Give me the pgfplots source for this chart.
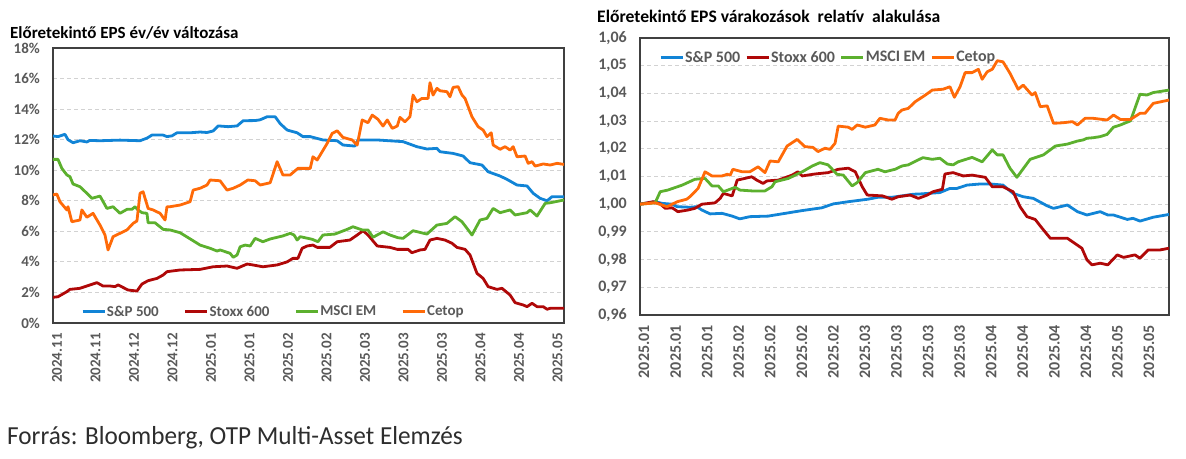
\documentclass[border=0pt]{standalone}
\usepackage{fontspec}
\setmainfont{Carlito}
\usepackage{graphicx}
\usepackage{pgfplots}
\pgfplotsset{compat=1.18}

\definecolor{spblue}{RGB}{17,132,214}
\definecolor{stoxxred}{RGB}{175,8,8}
\definecolor{emgreen}{RGB}{92,176,46}
\definecolor{cetoporange}{RGB}{255,106,8}
\definecolor{labelgray}{RGB}{89,89,89}
\definecolor{gridgray}{RGB}{210,210,210}
\definecolor{framegray}{RGB}{64,64,64}
\definecolor{srcgray}{RGB}{45,45,45}

\pgfplotsset{
  epsaxis/.style={
    scale only axis, anchor=south west,
    axis line style={draw=framegray, line width=1.3pt},
    major tick length=0pt,
    ymajorgrids,
    major grid style={draw=gridgray, line width=1pt, dash pattern=on 4pt off 3pt},
    tick label style={text=labelgray, inner sep=0pt},
    yticklabel style={xshift=-13pt, anchor=east},
    xticklabel style={xshift=4pt, yshift=-10pt, rotate=90, anchor=east},
    legend style={draw=none, fill=none, inner sep=0pt, legend columns=4,
      text=labelgray, nodes={inner xsep=1pt, inner ysep=0pt}},
    legend image code/.code={\draw[#1] (0pt,0pt) -- (22pt,0pt);},
    every axis plot/.append style={line width=2.8pt, line join=round, mark=none},
  }
}

\begin{document}
\begin{tikzpicture}
\path[use as bounding box] (0pt,0pt) rectangle (1186pt,458pt);

% ---------- left panel: year-on-year change of forward EPS ----------
\node[anchor=base west, inner sep=0pt, font=\bfseries\fontsize{17}{20}\selectfont]
  at (10pt,419pt) {Előretekintő EPS év/év változása};

\begin{axis}[epsaxis,
  at={(53pt,135pt)}, width=511pt, height=275pt,
  xmin=0, xmax=132.7, ymin=0, ymax=18,
  xtick={0,10,...,130},
  xticklabels={2024.11,2024.11,2024.12,2024.12,2025.01,2025.01,2025.02,2025.02,2025.03,2025.03,2025.03,2025.04,2025.04,2025.05},
  ytick={0,2,...,18},
  yticklabels={0\%,2\%,4\%,6\%,8\%,10\%,12\%,14\%,16\%,18\%},
  tick label style={font=\bfseries\fontsize{15}{18}\selectfont},
  legend style={at={(0.0548,0.041)}, anchor=west,
    font=\bfseries\fontsize{15}{18}\selectfont,
    /tikz/every even column/.append style={column sep=24pt}},
]
\addplot[spblue] coordinates {(0,12.24) (1.3,12.20) (3.1,12.35) (3.9,12.00) (5.2,11.80) (7.0,11.93) (8.8,11.85) (9.6,11.95) (12.2,11.93) (14.8,11.95) (17.4,11.97) (20.0,11.95) (22.6,11.93) (24.4,12.10) (25.7,12.30) (28.6,12.30) (29.6,12.20) (30.9,12.25) (32.2,12.45) (35.6,12.45) (38.2,12.50) (40.0,12.47) (41.6,12.57) (42.9,12.90) (45.5,12.85) (47.8,12.90) (49.4,13.24) (52.5,13.25) (53.8,13.30) (55.6,13.50) (57.7,13.50) (59.0,13.05) (60.8,12.63) (63.4,12.45) (64.9,12.20) (66.8,12.20) (70.1,11.98) (73.8,11.93) (75.3,11.65) (78.4,11.58) (79.2,11.98) (84.2,11.98) (90.9,11.87) (94.5,11.54) (97.1,11.39) (99.7,11.43) (100.5,11.21) (103.9,11.10) (106.5,10.93) (108.3,10.49) (111.4,10.34) (113.0,9.90) (116.1,9.62) (117.9,9.40) (120.5,9.03) (123.1,8.97) (124.7,8.49) (126.5,8.16) (128.3,8.00) (129.6,8.27) (132.7,8.27)};
\addlegendentry{S\&P 500}
\addplot[stoxxred] coordinates {(0,1.68) (1.3,1.72) (3.6,2.05) (4.4,2.20) (7.0,2.27) (9.6,2.49) (11.4,2.64) (13.0,2.42) (14.8,2.42) (16.1,2.38) (16.9,2.49) (19.5,2.16) (21.8,2.09) (23.1,2.55) (24.7,2.77) (27.0,2.92) (28.6,3.14) (29.6,3.36) (33.0,3.47) (38.2,3.51) (41.6,3.68) (45.2,3.73) (47.8,3.58) (50.4,3.86) (51.9,3.80) (54.5,3.68) (58.2,3.80) (60.8,4.00) (62.3,4.23) (63.6,4.23) (64.7,4.89) (66.0,5.04) (67.5,5.10) (68.6,4.95) (71.9,4.95) (73.8,5.32) (77.1,5.43) (79.0,5.76) (80.5,6.04) (81.8,5.76) (84.2,5.04) (87.5,4.95) (89.4,4.82) (92.2,4.82) (93.2,4.60) (95.3,4.78) (96.6,4.82) (97.9,5.43) (99.7,5.54) (101.8,5.43) (103.6,5.22) (104.9,4.95) (107.0,4.82) (108.3,4.45) (110.1,3.25) (111.7,2.92) (113.0,2.38) (115.3,2.20) (116.6,2.27) (118.7,1.83) (120.0,1.33) (122.1,1.18) (123.1,1.07) (124.4,1.29) (125.7,1.07) (127.3,1.07) (128.3,0.90) (129.1,0.96) (132.7,0.96)};
\addlegendentry{Stoxx 600}
\addplot[emgreen] coordinates {(0,10.71) (1.3,10.71) (2.3,10.12) (3.6,9.69) (4.4,9.58) (5.2,9.10) (7.0,8.92) (8.8,8.49) (10.1,8.16) (12.2,8.31) (14.0,7.50) (15.6,7.61) (17.4,7.18) (19.2,7.44) (20.5,7.44) (21.3,7.61) (22.1,7.40) (23.1,7.22) (24.4,7.18) (24.7,6.56) (26.5,6.56) (28.6,6.13) (30.4,6.09) (33.0,5.91) (36.1,5.43) (38.2,5.10) (40.8,4.89) (42.6,4.71) (43.4,4.78) (46.0,4.56) (46.8,4.30) (47.8,4.45) (48.6,4.99) (49.9,5.10) (51.2,5.04) (52.5,5.54) (54.5,5.32) (56.4,5.50) (59.7,5.70) (61.6,5.87) (62.6,5.76) (63.4,5.43) (64.2,5.65) (67.3,5.48) (68.8,5.32) (70.1,5.76) (73.2,5.82) (76.4,6.13) (77.9,6.30) (80.3,6.09) (81.8,6.09) (83.1,5.61) (85.7,5.97) (87.5,5.76) (89.6,5.58) (90.9,5.54) (93.5,6.04) (97.1,5.82) (99.7,6.41) (102.3,6.52) (104.4,6.96) (106.2,6.63) (108.8,5.76) (110.9,6.74) (112.7,6.85) (114.3,7.50) (116.1,7.22) (118.7,7.40) (120.0,7.07) (123.1,7.22) (123.9,7.40) (125.7,7.00) (127.8,7.83) (129.1,7.87) (132.7,8.05)};
\addlegendentry{MSCI EM}
\addplot[cetoporange] coordinates {(0,8.38) (1.0,8.44) (1.8,7.94) (3.6,7.40) (3.9,7.61) (4.9,6.63) (7.0,6.74) (7.5,7.40) (8.8,6.92) (10.4,7.18) (12.2,6.41) (13.5,5.76) (14.3,4.78) (15.6,5.65) (17.4,5.87) (19.2,6.09) (20.8,6.52) (21.8,6.68) (22.6,8.49) (23.4,8.59) (24.7,7.50) (26.0,7.40) (27.8,7.18) (29.1,6.74) (29.6,7.61) (30.4,7.61) (33.0,7.72) (35.6,7.94) (36.4,8.70) (38.2,8.82) (40.0,9.03) (40.8,9.36) (43.4,9.31) (44.2,9.03) (45.2,8.70) (46.8,8.82) (48.6,9.03) (50.6,9.36) (52.5,9.31) (53.8,9.03) (56.4,9.18) (58.2,10.56) (59.7,9.69) (61.6,9.69) (63.6,10.12) (66.8,10.12) (67.5,10.88) (68.6,10.67) (69.9,11.21) (71.2,11.76) (72.5,12.41) (73.8,12.58) (75.3,12.15) (77.7,11.98) (79.0,11.65) (80.3,13.29) (81.8,13.11) (82.9,13.61) (84.4,13.33) (85.7,12.89) (86.8,13.29) (88.1,12.74) (89.4,12.89) (90.1,13.46) (91.4,13.17) (92.7,13.50) (93.5,14.92) (94.5,14.48) (95.8,14.70) (97.4,14.70) (97.9,15.73) (98.7,14.92) (99.7,15.36) (100.5,15.20) (102.3,15.14) (103.1,14.81) (103.9,15.42) (105.2,15.47) (106.2,14.92) (107.0,14.70) (108.8,13.50) (110.4,12.85) (111.7,12.63) (112.7,12.20) (113.8,12.45) (114.3,11.65) (116.1,11.37) (117.4,11.54) (118.7,11.32) (119.5,11.54) (120.5,10.88) (122.6,10.93) (123.4,10.45) (124.4,10.56) (125.2,10.27) (127.3,10.41) (129.1,10.34) (130.9,10.45) (132.7,10.38)};
\addlegendentry{Cetop}
\end{axis}

% ---------- right panel: relative path of forward EPS expectations ----------
\node[anchor=base west, inner sep=0pt, font=\bfseries\fontsize{17.6}{20}\selectfont]
  at (597pt,435.3pt) {Előretekintő EPS várakozások \ relatív \ alakulása};

\begin{axis}[epsaxis,
  at={(640pt,143pt)}, width=529pt, height=277pt,
  xmin=0, xmax=83.8, ymin=0.96, ymax=1.06,
  xtick={0,5,...,80},
  xticklabels={2025.01,2025.01,2025.01,2025.02,2025.02,2025.02,2025.02,2025.03,2025.03,2025.03,2025.03,2025.04,2025.04,2025.04,2025.04,2025.05,2025.05},
  ytick={0.96,0.97,0.98,0.99,1.00,1.01,1.02,1.03,1.04,1.05,1.06},
  yticklabels={{0,96},{0,97},{0,98},{0,99},{1,00},{1,01},{1,02},{1,03},{1,04},{1,05},{1,06}},
  tick label style={font=\bfseries\fontsize{16}{19}\selectfont},
  legend style={at={(0.0359,0.9296)}, anchor=west,
    font=\bfseries\fontsize{16}{19}\selectfont,
    /tikz/every even column/.append style={column sep=4pt}},
]
\addplot[spblue] coordinates {(0,1.0000) (2.4,1.0009) (3.5,1.0003) (5.1,1.0000) (5.9,0.9991) (7.9,0.9989) (9.0,0.9991) (9.8,0.9979) (11.1,0.9965) (13.0,0.9967) (14.6,0.9957) (15.8,0.9947) (17.4,0.9955) (20.3,0.9957) (23.0,0.9967) (25.7,0.9977) (28.8,0.9987) (30.6,1.0001) (33.0,1.0009) (36.1,1.0018) (37.7,1.0025) (39.9,1.0025) (41.5,1.0030) (43.3,1.0036) (44.4,1.0037) (47.5,1.0042) (49.1,1.0057) (50.2,1.0057) (51.8,1.0069) (53.9,1.0073) (55.5,1.0073) (57.5,1.0069) (59.1,1.0039) (60.7,1.0027) (62.3,1.0021) (64.5,0.9994) (65.5,0.9985) (67.7,0.9997) (69.3,0.9973) (70.8,0.9961) (72.9,0.9973) (74.1,0.9961) (75.0,0.9961) (77.2,0.9945) (78.1,0.9949) (79.2,0.9939) (81.3,0.9953) (83.8,0.9963)};
\addlegendentry{S\&P 500}
\addplot[stoxxred] coordinates {(0,1.0000) (2.1,1.0009) (3.2,1.0001) (4.0,0.9985) (5.1,0.9987) (6.0,0.9973) (7.6,0.9979) (8.7,0.9985) (9.8,1.0000) (11.9,1.0005) (12.7,1.0021) (13.2,1.0039) (14.6,1.0030) (15.4,1.0087) (16.6,1.0093) (17.7,1.0099) (18.5,1.0087) (19.5,1.0075) (20.1,1.0084) (21.9,1.0087) (24.1,1.0105) (25.0,1.0117) (25.7,1.0102) (27.7,1.0109) (29.8,1.0114) (31.4,1.0126) (33.0,1.0130) (34.1,1.0117) (35.2,1.0063) (36.0,1.0033) (38.4,1.0030) (39.9,1.0018) (40.9,1.0027) (42.8,1.0033) (44.1,1.0021) (45.5,1.0033) (46.4,1.0045) (47.9,1.0054) (48.3,1.0109) (49.6,1.0114) (51.2,1.0102) (52.6,1.0105) (54.7,1.0097) (55.8,1.0063) (57.5,1.0063) (59.1,1.0045) (60.2,0.9991) (61.3,0.9955) (62.6,0.9945) (63.7,0.9913) (65.0,0.9877) (67.7,0.9877) (70.0,0.9841) (70.8,0.9799) (71.6,0.9781) (72.9,0.9787) (74.1,0.9781) (75.6,0.9817) (76.6,0.9808) (78.4,0.9817) (79.2,0.9805) (80.5,0.9835) (82.4,0.9835) (83.8,0.9841)};
\addlegendentry{Stoxx 600}
\addplot[emgreen] coordinates {(0,1.0000) (2.4,1.0005) (3.2,1.0045) (4.4,1.0051) (6.7,1.0069) (8.7,1.0090) (10.3,1.0093) (11.4,1.0066) (12.4,1.0066) (13.2,1.0045) (15.1,1.0061) (15.8,1.0051) (17.7,1.0048) (19.8,1.0048) (20.9,1.0063) (21.4,1.0081) (23.5,1.0093) (25.7,1.0117) (27.3,1.0138) (28.5,1.0150) (29.8,1.0142) (31.2,1.0108) (32.2,1.0105) (33.6,1.0066) (34.4,1.0078) (35.7,1.0114) (37.7,1.0126) (38.8,1.0117) (40.4,1.0126) (41.5,1.0138) (42.5,1.0142) (44.8,1.0168) (46.3,1.0162) (47.5,1.0166) (48.7,1.0145) (49.6,1.0142) (50.4,1.0153) (52.6,1.0169) (54.2,1.0153) (55.8,1.0196) (56.6,1.0178) (57.5,1.0178) (58.6,1.0130) (59.7,1.0097) (61.8,1.0162) (63.9,1.0178) (65.8,1.0210) (67.7,1.0217) (69.3,1.0228) (70.2,1.0232) (70.8,1.0238) (71.8,1.0240) (72.9,1.0244) (74.0,1.0252) (75.0,1.0278) (76.1,1.0286) (77.7,1.0301) (79.2,1.0397) (80.3,1.0394) (81.3,1.0403) (83.8,1.0412)};
\addlegendentry{MSCI EM}
\addplot[cetoporange] coordinates {(0,1.0000) (2.4,1.0005) (3.5,0.9997) (4.3,0.9991) (5.9,1.0009) (7.4,1.0018) (7.9,1.0027) (9.2,1.0057) (10.3,1.0117) (11.4,1.0102) (13.0,1.0102) (13.8,1.0108) (14.3,1.0105) (14.7,1.0126) (16.2,1.0117) (17.4,1.0117) (18.7,1.0135) (19.8,1.0114) (20.6,1.0156) (21.9,1.0153) (23.3,1.0210) (24.9,1.0234) (26.1,1.0208) (27.4,1.0205) (28.2,1.0190) (29.3,1.0202) (30.1,1.0198) (30.9,1.0220) (31.4,1.0282) (33.0,1.0278) (33.6,1.0270) (34.4,1.0286) (35.7,1.0278) (37.2,1.0286) (38.0,1.0310) (39.3,1.0304) (40.4,1.0304) (40.9,1.0328) (41.5,1.0340) (42.5,1.0346) (43.6,1.0370) (45.2,1.0394) (46.3,1.0412) (48.0,1.0415) (49.1,1.0424) (49.8,1.0386) (50.7,1.0424) (51.5,1.0475) (52.6,1.0475) (53.6,1.0487) (54.2,1.0451) (55.0,1.0478) (55.8,1.0487) (56.6,1.0518) (57.5,1.0514) (58.6,1.0473) (59.9,1.0415) (60.7,1.0430) (62.1,1.0394) (62.6,1.0403) (63.4,1.0352) (64.5,1.0355) (65.5,1.0292) (67.0,1.0294) (68.5,1.0298) (69.3,1.0286) (70.5,1.0310) (71.8,1.0310) (74.0,1.0304) (75.0,1.0322) (76.1,1.0306) (77.7,1.0306) (79.2,1.0328) (80.0,1.0328) (81.3,1.0364) (83.8,1.0376)};
\addlegendentry{Cetop}
\end{axis}

% ---------- source line ----------
\node[anchor=base west, inner sep=0pt, text=srcgray]
  at (7pt,13.7pt) {\scalebox{0.97}[1]{\fontsize{26}{30}\selectfont Forrás: Bloomberg, OTP Multi-Asset Elemzés}};
\end{tikzpicture}
\end{document}
